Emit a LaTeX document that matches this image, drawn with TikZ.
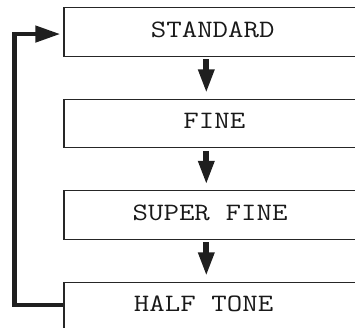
\documentclass[tikz,border=0pt]{standalone}
\usepackage{fontspec}
\newfontfamily\boxfont{Latin Modern Mono}[FakeStretch=1.2]
\newcommand\cellgap{\hspace*{15.75pt}}
\usetikzlibrary{arrows.meta}
\begin{document}
\begin{tikzpicture}[x=1pt,y=-1pt,
  box/.style={draw=black!85, line width=1.2pt, anchor=north west,
    minimum height=48.3pt, text width=330pt, inner xsep=0pt, inner ysep=0pt,
    align=left, text=black!90, text height=14pt, text depth=3.5pt,
    font=\boxfont\fontsize{25}{30}\selectfont},
  down/.style={line width=6pt, draw=black!88, -{Triangle[length=24pt,width=15pt]}},
  loop/.style={line width=4.5pt, draw=black!88, -{Triangle[length=25pt,width=16pt]}}]
\useasboundingbox (0,0) rectangle (355,328);
\clip (0,0) rectangle (355,328);
\node[box] (s) at (63.3,7.3) {\hspace*{87pt}STANDARD};
\node[box] (f) at (63.3,98.8) {\hspace*{119.5pt}FINE};
\node[box] (sf) at (63.3,190.3) {\hspace*{68.75pt}SUPER\cellgap FINE};
\node[box] (h) at (63.3,281.8) {\hspace*{70pt}HALF\cellgap TONE};
\coordinate (ax) at (206.3,0);
\draw[down] ([yshift=-2.5pt]s.south -| ax) -- ([yshift=5.5pt]f.north -| ax);
\draw[down] ([yshift=-2.5pt]f.south -| ax) -- ([yshift=5.5pt]sf.north -| ax);
\draw[down] ([yshift=-2.5pt]sf.south -| ax) -- ([yshift=5.5pt]h.north -| ax);
\coordinate (lx) at (14.3,0);
\draw[loop] ([yshift=1.5pt]h.west) -| ([yshift=-2pt]s.west -| lx) -- ([xshift=-3pt,yshift=-2pt]s.west);
\end{tikzpicture}
\end{document}
